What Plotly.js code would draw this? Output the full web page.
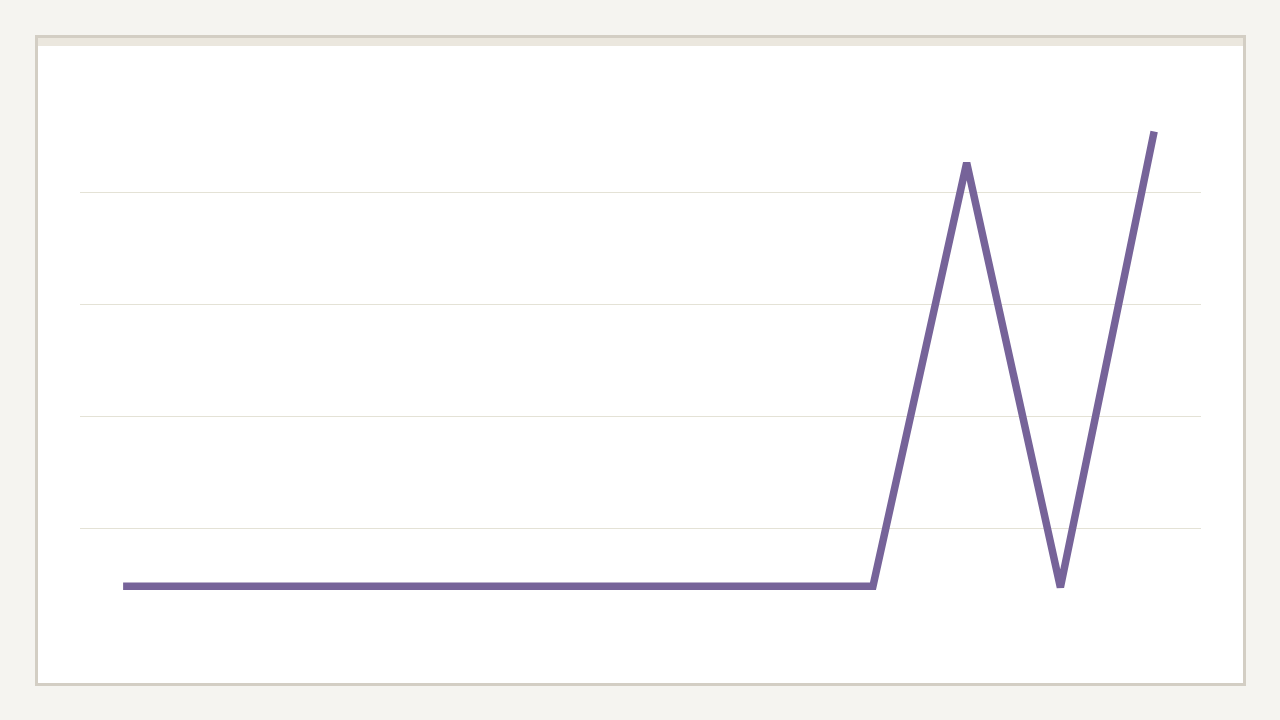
<!DOCTYPE html>
<html>
<head>
<meta charset="utf-8">
<script src="https://cdn.plot.ly/plotly-3.0.1.min.js"></script>
<style>
html,body{margin:0;padding:0;background:#f5f4f0;}
#chart{width:1280px;height:720px;}
</style>
</head>
<body>
<div id="chart"></div>
<script>
const categories = ['Jan','Feb','Mar','Apr','May','Jun','Jul','Aug','Sep','Oct','Nov','Dec'];
const values = [48, 48, 48, 48, 48, 48, 48, 48, 48, 426, 47, 454];
const gridTicks = [100, 200, 300, 400];

const L = 80, R = 1201, T = 80, B = 640;
const px = x => (x - L) / (R - L);
const py = y => (B - y) / (B - T);

const trace = {
  x: categories,
  y: values,
  type: 'scatter',
  mode: 'lines',
  line: {color: '#766399', width: 7.5, shape: 'linear'},
  hoverinfo: 'skip',
  showlegend: false
};

const layout = {
  width: 1280, height: 720,
  margin: {l: L, r: 1280 - R, t: T, b: 720 - B, pad: 0},
  paper_bgcolor: '#f5f4f0',
  plot_bgcolor: 'rgba(0,0,0,0)',
  showlegend: false,
  xaxis: {
    type: 'category',
    range: [-0.46, 11.5],
    showgrid: false, zeroline: false, showline: false,
    showticklabels: false, ticks: ''
  },
  yaxis: {
    range: [0, 500],
    tickvals: gridTicks,
    showgrid: true, gridcolor: '#e4e2d6', gridwidth: 1,
    zeroline: false, showline: false,
    showticklabels: false, ticks: ''
  },
  shapes: [
    {type: 'rect', xref: 'paper', yref: 'paper', layer: 'below',
     x0: px(36.5), x1: px(1244.5), y0: py(36.5), y1: py(684.5),
     line: {color: '#d3cec4', width: 3}, fillcolor: '#ffffff'},
    {type: 'rect', xref: 'paper', yref: 'paper', layer: 'below',
     x0: px(38), x1: px(1243), y0: py(38), y1: py(46),
     line: {width: 0}, fillcolor: '#ebe7de'}
  ]
};

Plotly.newPlot('chart', [trace], layout, {staticPlot: true, displayModeBar: false});
</script>
</body>
</html>
